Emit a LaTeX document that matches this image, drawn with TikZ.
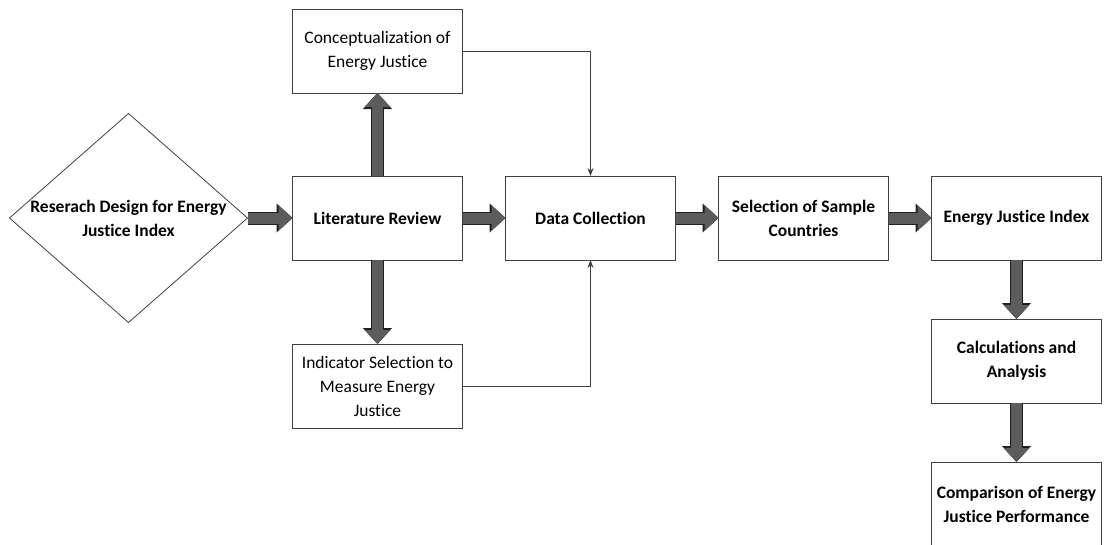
\documentclass[tikz,border=0pt]{standalone}
\usepackage{fontspec}
\setmainfont{Carlito}[Ligatures=NoCommon]
\usetikzlibrary{positioning, shapes.geometric, arrows.meta}

\begin{document}
\begin{tikzpicture} [x=1pt, y=1pt, node distance = 43pt and 43pt,    box/.style={draw=black!75, line width=0.8pt, rectangle, minimum height=84pt, minimum width=170pt, align=center, outer sep=0pt, font=\fontsize{17.5pt}{24pt}\selectfont},    boldbox/.style={box, font=\fontsize{17.5pt}{24pt}\selectfont\bfseries},    fatarrow/.style={line width=11pt, draw=black!64, -{Triangle[length=14pt, width=26pt, line width=0pt]}, preaction={draw=black!88, line width=13pt, -{Triangle[length=16pt, width=29pt, line width=0pt]}}},    thinarrow/.style={draw=black!75, line width=0.8pt, -{Stealth[length=8pt, width=6pt]}}]
        \useasboundingbox (0,0) rectangle (1105,-544);
        % Nodes
        \node[boldbox] (litrev) at (377.5,-218) {Literature Review};
        \node[diamond, draw=black!75, line width=0.8pt, minimum width=238pt, minimum height=209pt, inner xsep=-25pt, inner ysep=0pt, outer sep=0pt, align=center, font=\fontsize{17.5pt}{24pt}\selectfont\bfseries, left=45pt of litrev] (design) {Reserach Design for Energy\\Justice Index};
        \node[box, above=83pt of litrev] (concept) {Conceptualization of\\Energy Justice};
        \node[box, below=84pt of litrev] (indicator) {Indicator Selection to\\Measure Energy\\Justice};
        \node[boldbox, right=of litrev] (datacoll) {Data Collection};
        \node[boldbox, right=of datacoll] (sample) {Selection of Sample\\Countries};
        \node[boldbox, right=of sample] (ejindex) {Energy Justice Index};
        \node[boldbox, below=59pt of ejindex] (calc) {Calculations and\\Analysis};
        \node[boldbox, below=59pt of calc] (compare) {Comparison of Energy\\Justice Performance};

        % Arrows
        \draw[fatarrow] (design.east) -- (litrev.west);
        \draw[fatarrow] (litrev.north) -- (concept.south);
        \draw[fatarrow] (litrev.south) -- (indicator.north);
        \draw[fatarrow] (litrev.east) -- (datacoll.west);
        \draw[fatarrow] (datacoll.east) -- (sample.west);
        \draw[fatarrow] (sample.east) -- (ejindex.west);
        \draw[fatarrow] (ejindex.south) -- (calc.north);
        \draw[fatarrow] (calc.south) -- (compare.north);
        \draw[thinarrow] (concept.east) -| (datacoll.north);
        \draw[thinarrow] (indicator.east) -| (datacoll.south);
    \end{tikzpicture}
\end{document}
